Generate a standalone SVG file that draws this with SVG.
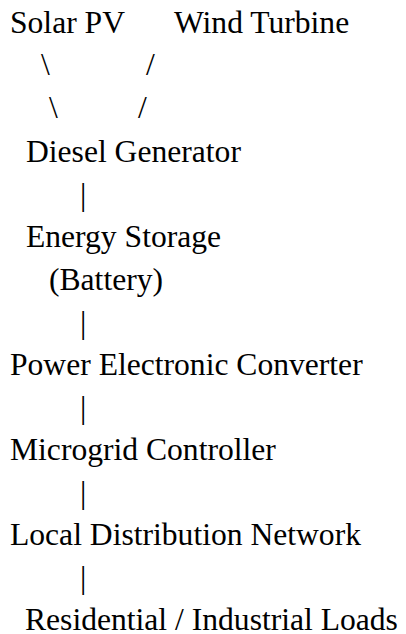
<svg xmlns="http://www.w3.org/2000/svg" width="406" height="634" viewBox="0 0 406 634">
<style>
text{font-family:"Liberation Serif","Times New Roman",serif;font-size:31.6px;fill:#000}
</style>
<rect width="406" height="634" fill="#fff"/>
<g id="connectors">
<text x="41" y="75">\</text>
<text x="49" y="118">\</text>
<text x="146" y="75">/</text>
<text x="138" y="118">/</text>
<text x="80" y="205">|</text>
<text x="80" y="333">|</text>
<text x="80" y="418">|</text>
<text x="80" y="503">|</text>
<text x="80" y="588">|</text>
</g>
<g id="solar"><text x="10" y="33">Solar PV</text></g>
<g id="wind"><text x="174" y="33">Wind Turbine</text></g>
<g id="diesel"><text x="26" y="162">Diesel Generator</text></g>
<g id="storage"><text x="26" y="247">Energy Storage</text><text x="49" y="290">(Battery)</text></g>
<g id="converter"><text x="10" y="375">Power Electronic Converter</text></g>
<g id="controller"><text x="10" y="460">Microgrid Controller</text></g>
<g id="network"><text x="10" y="545">Local Distribution Network</text></g>
<g id="loads"><text x="25" y="630">Residential / Industrial Loads</text></g>
</svg>
